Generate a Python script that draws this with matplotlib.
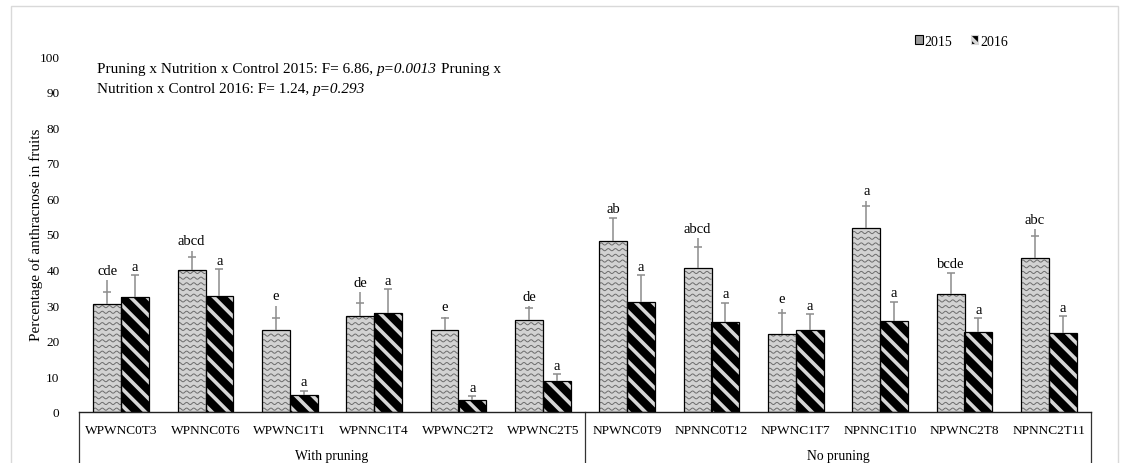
import numpy as np
import matplotlib
matplotlib.use("Agg")
import matplotlib.pyplot as plt
from matplotlib.collections import LineCollection
from matplotlib.patches import Patch, Rectangle

plt.rcParams['font.family'] = ['Liberation Serif', 'DejaVu Serif']
plt.rcParams['hatch.linewidth'] = 2.6

# Treatments and their pruning groups
treatments = ["WPWNC0T3", "WPNNC0T6", "WPWNC1T1", "WPNNC1T4", "WPWNC2T2", "WPWNC2T5",
              "NPWNC0T9", "NPNNC0T12", "NPWNC1T7", "NPNNC1T10", "NPWNC2T8", "NPNNC2T11"]
groups = ["With pruning", "No pruning"]
group_size = [6, 6]

# Anthracnose incidence (%) per year
y2015 = [30.3, 40.0, 23.0, 26.9, 23.0, 25.8, 48.1, 40.4, 21.8, 51.8, 33.1, 43.3]
y2016 = [32.3, 32.6, 4.9, 27.9, 3.3, 8.7, 31.0, 25.2, 23.0, 25.5, 22.4, 22.1]

# Error bars: 2015 has a cap and a longer whisker, 2016 a plain capped whisker
cap2015 = [3.5, 3.5, 3.4, 3.6, 3.5, 3.5, 6.3, 6.0, 6.0, 6.0, 5.9, 6.1]
whisk2015 = [6.7, 5.3, 6.9, 6.7, 3.8, 4.0, 6.3, 8.5, 7.2, 7.6, 5.9, 8.1]
err2016 = [6.1, 7.6, 1.1, 6.6, 1.2, 2.0, 7.5, 5.5, 4.4, 5.5, 3.9, 4.8]

# Mean separation letters
letters2015 = ["cde", "abcd", "e", "de", "e", "de", "ab", "abcd", "e", "a", "bcde", "abc"]
letters2016 = ["a"] * 12

W, H = 1126, 464
fig = plt.figure(figsize=(W / 100, H / 100), dpi=100)
ax = fig.add_axes([79 / W, 51 / H, 1012 / W, 356 / H])

n = len(treatments)
x = np.arange(n)
w = 0.33
y15 = np.array(y2015)
y16 = np.array(y2016)

# 2015 bars: light grey with a wavy texture
b15 = ax.bar(x - w / 2, y15, w, color='#d2d2d2', edgecolor='none', zorder=2)
for r in b15:
    x0, x1 = r.get_x(), r.get_x() + r.get_width()
    xs = np.linspace(x0, x1, 80)
    segs = [np.column_stack([xs, yy + 0.3 * np.sin(2 * np.pi * (xs - x0) / 0.085)])
            for yy in np.arange(0.8, r.get_height() + 1.6, 1.6)]
    lc = LineCollection(segs, colors='#6c6c6c', linewidths=0.7, zorder=2.5)
    ax.add_collection(lc)
    lc.set_clip_path(r)
ax.bar(x - w / 2, y15, w, fill=False, edgecolor='black', linewidth=0.9, zorder=3)

# 2016 bars: black with light diagonal stripes
ax.bar(x + w / 2, y16, w, color='black', edgecolor='#d6d6d6', hatch='\\\\', linewidth=0, zorder=2)
ax.bar(x + w / 2, y16, w, fill=False, edgecolor='black', linewidth=0.9, zorder=3)

ecol = '#8c8c8c'
ax.vlines(x - w / 2, y15, y15 + np.array(whisk2015), colors=ecol, lw=1.1, zorder=4)
ax.plot(x - w / 2, y15 + np.array(cap2015), ls='none', marker='_', ms=6, mew=1.1, color=ecol, zorder=4)
ax.vlines(x + w / 2, y16, y16 + np.array(err2016), colors=ecol, lw=1.1, zorder=4)
ax.plot(x + w / 2, y16 + np.array(err2016), ls='none', marker='_', ms=6, mew=1.1, color=ecol, zorder=4)

for i in range(n):
    ax.text(x[i] - w / 2, y15[i] + whisk2015[i] + 1.8, letters2015[i], ha='center', va='baseline',
            fontsize=10.5, zorder=5)
    ax.text(x[i] + w / 2, y16[i] + err2016[i] + 1.5, letters2016[i], ha='center', va='baseline',
            fontsize=10.5, zorder=5)

ax.set_xlim(-0.5, n - 0.5)
ax.set_ylim(0, 100)
ax.set_yticks(np.arange(0, 101, 10))
ax.tick_params(axis='y', length=0, pad=14, labelsize=9.5)
ax.set_xticks([])
for s in ['left', 'right', 'top']:
    ax.spines[s].set_visible(False)
ax.spines['bottom'].set_color('#222222')
ax.spines['bottom'].set_linewidth(1.0)

# Category table under the axis
tr = ax.get_xaxis_transform()
for i, name in enumerate(treatments):
    ax.text(x[i], -0.0506, name, transform=tr, ha='center', va='center', fontsize=9.6)
start = 0
edges = [-0.5]
for g, size in zip(groups, group_size):
    ax.text(start + (size - 1) / 2, -0.1208, g, transform=tr, ha='center', va='center', fontsize=9.8)
    start += size
    edges.append(start - 0.5)
for xv in edges:
    ax.plot([xv, xv], [0, -0.16], transform=tr, clip_on=False, color='#333333', lw=0.9)

fig.text(36 / W, 1 - 235 / H, "Percentage of anthracnose in fruits", rotation=90,
         ha='center', va='center', fontsize=11)

# Statistics note with italic p-values
renderer = fig.canvas.get_renderer()
gap = 3.8


def write_line(pieces, x_px, base_px):
    xp = x_px
    for s, style in pieces:
        t = fig.text(xp / W, 1 - base_px / H, s, fontsize=11, style=style, ha='left', va='baseline')
        xp = t.get_window_extent(renderer).x1 + gap


write_line([("Pruning x Nutrition x Control 2015: F= 6.86,", 'normal'), ("p=0.0013", 'italic'),
            ("Pruning x", 'normal')], 97, 73)
write_line([("Nutrition x Control 2016: F= 1.24,", 'normal'), ("p=0.293", 'italic')], 97, 92.5)

handles = [Patch(facecolor='#9a9a9a', edgecolor='black', lw=0.8, label='2015'),
           Patch(facecolor='black', edgecolor='#d6d6d6', hatch='\\\\\\', lw=0.8, label='2016')]
fig.legend(handles=handles, loc='center left', bbox_to_anchor=(915 / W, 1 - 42 / H), ncol=2,
           frameon=False, fontsize=10, handlelength=0.55, handleheight=0.55, handletextpad=0.15,
           columnspacing=1.3, borderpad=0, borderaxespad=0)

# Light frame around the figure
fig.patches.append(Rectangle((11 / W, -0.05), (1118 - 11) / W, (H - 7) / H + 0.05,
                             transform=fig.transFigure, fill=False, edgecolor='#d9d9d9', lw=1))

fig.savefig("out.png", dpi=100)
